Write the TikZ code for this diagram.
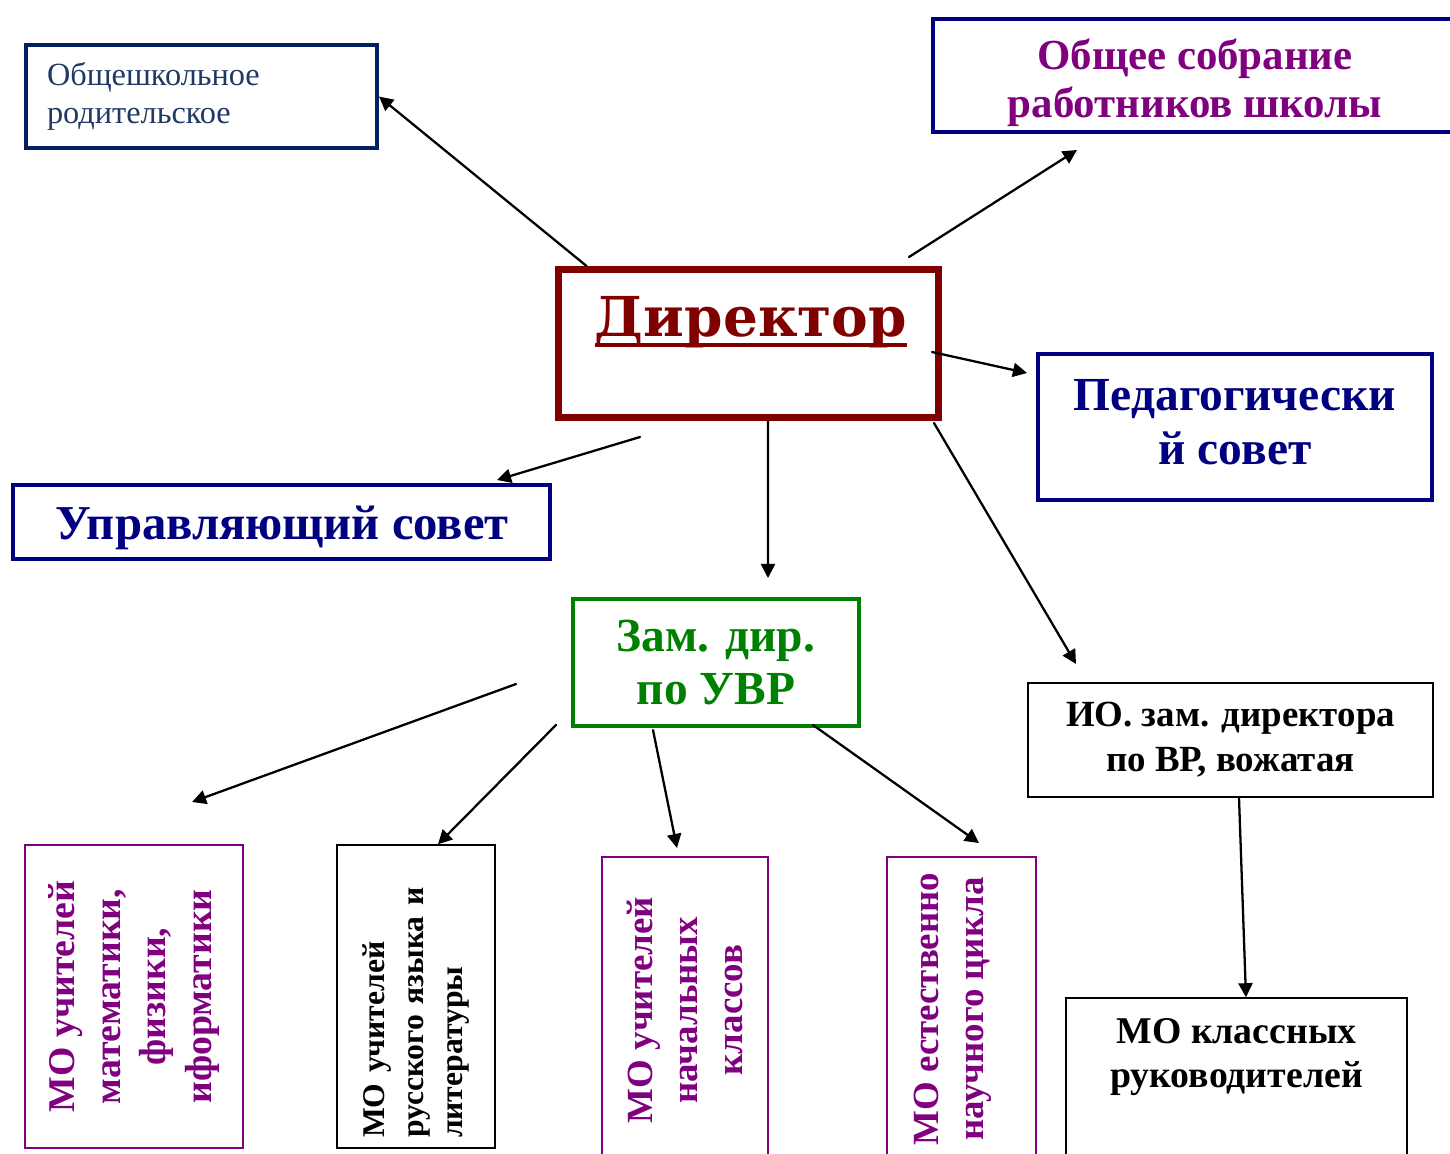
\documentclass[tikz,border=0pt]{standalone}
\usepackage{fontspec}
\setmainfont{Liberation Serif}
\newfontfamily\slabfont{DejaVu Serif}
\usetikzlibrary{arrows.meta,calc}

\definecolor{navyb}{RGB}{0,0,128}
\definecolor{navyd}{RGB}{0,32,96}
\definecolor{inkb}{RGB}{31,56,100}
\definecolor{plum}{RGB}{128,0,128}
\definecolor{maroonr}{RGB}{128,0,0}
\definecolor{leaf}{RGB}{0,128,0}

\newsavebox\ulbox
\newcommand\thickul[1]{\sbox\ulbox{#1}%
  \rlap{\rule[-0.2em]{\wd\ulbox}{0.075em}}\usebox\ulbox}

\begin{document}
\begin{tikzpicture}[x=0.02cm,y=-0.02cm,>={Triangle[length=8pt,width=8pt]},
    box@/.style={draw,rectangle,inner sep=0pt,align=center,line join=miter},
    lbl@/.style={align=center,inner sep=0pt},
    thick@/.style={line width=2.3pt},
    thin@/.style={line width=1.1pt},
    arr@/.style={line width=1.3pt,line cap=round,->}]
    \useasboundingbox (0,0) rectangle (1450,1153);
    \clip (0,0) rectangle (1450,1153);

    % Upper row of councils round the director.
    \node[box@,thick@,draw=navyd,text=inkb,minimum width=7.02cm,
      minimum height=2.06cm,text width=6.18cm,align=left,
      font=\fontsize{18.4}{21.5}\selectfont] (par) at (201.5,96.5)
      {Общешкольное\\родительское};
    \node[box@,thick@,draw=navyb,minimum width=10.52cm,
      minimum height=2.26cm] (obsh) at (1196,75.5) {};
    \node[lbl@,text=plum,font=\bfseries\fontsize{24.4}{27.2}\selectfont]
      (obshlbl) at (1195,83) {Общее собрание\\работников школы};
    \node[box@,line width=4pt,draw=maroonr,minimum width=7.6cm,
      minimum height=2.96cm] (dir) at (748.5,343.5) {};
    \node[text=maroonr,font=\slabfont\bfseries\fontsize{31.3}{36}\selectfont]
      (dirlbl) at (751,322) {\thickul{Директор}};
    \node[box@,thick@,draw=navyb,minimum width=7.88cm,
      minimum height=2.92cm] (ped) at (1235,427) {};
    \node[lbl@,text=navyb,font=\bfseries\fontsize{27}{31}\selectfont]
      (pedlbl) at (1235,422) {Педагогически\\й совет};
    \node[box@,thick@,draw=navyb,minimum width=10.74cm,
      minimum height=1.48cm] (upr) at (281.5,522) {};
    \node[lbl@,text=navyb,font=\bfseries\fontsize{27.7}{31}\selectfont]
      (uprlbl) at (282,528) {Управляющий совет};

    % Deputies.
    \node[box@,thick@,draw=leaf,text=leaf,minimum width=5.72cm,
      minimum height=2.54cm,font=\bfseries\fontsize{27}{30}\selectfont]
      (zam) at (716,662.5) {Зам. дир.\\по УВР};
    \node[box@,line width=0.9pt,minimum width=8.1cm,minimum height=2.28cm,
      font=\bfseries\fontsize{21}{25.5}\selectfont]
      (io) at (1230.5,740) {ИО. зам. директора\\по ВР, вожатая};
    \node[box@,line width=0.9pt,minimum width=6.82cm,minimum height=4.04cm]
      (mok) at (1236.5,1099) {};
    \node[lbl@,font=\bfseries\fontsize{21.5}{25.5}\selectfont]
      (moklbl) at (1236.5,1057) {МО классных\\руководителей};

    % The subject groups, written upwards.
    \node[box@,thin@,draw=plum,text=plum,rotate=90,minimum width=6.06cm,
      minimum height=4.36cm,font=\bfseries\fontsize{21.5}{26}\selectfont]
      (mom) at (134,996.5) {МО учителей\\математики,\\физики,\\иформатики};
    \node[box@,line width=0.9pt,rotate=90,minimum width=6.06cm,
      minimum height=3.16cm,text width=5.66cm,align=left,
      font=\bfseries\fontsize{18}{22}\selectfont]
      (mor) at (416,996.5) {МО учителей\\русского языка и\\литературы};
    \node[box@,thin@,draw=plum,text=plum,rotate=90,minimum width=6.12cm,
      minimum height=3.32cm,font=\bfseries\fontsize{21}{25.5}\selectfont]
      (mon) at (685,1010) {МО учителей\\начальных\\классов};
    \node[box@,thin@,draw=plum,minimum width=2.98cm,
      minimum height=6.12cm] (moe) at (961.5,1010) {};
    \node[lbl@,text=plum,rotate=90,font=\bfseries\fontsize{21}{25.5}\selectfont]
      (moelbl) at (953,1009) {МО естественно\\научного цикла};

    % Free ends of the arrows.
    \coordinate (obshtip) at (1077,150);
    \coordinate (dirne) at (909,257);
    \coordinate (dire) at (932,352);
    \coordinate (pedtip) at (1027,373);
    \coordinate (dirsw) at (640,437);
    \coordinate (uprtip) at (497,480);
    \coordinate (zamtip) at (768,578);
    \coordinate (dirse) at (934,423);
    \coordinate (iotip) at (1076,664);
    \coordinate (zamw) at (516,684);
    \coordinate (momtip) at (192,802);
    \coordinate (zamsw) at (556,725);
    \coordinate (zams) at (653,730);
    \coordinate (montip) at (677,848);
    \coordinate (zamse) at (813,725);
    \coordinate (moetip) at (979,843);

    \draw[arr@] ([xshift=0.63cm]dir.north west) -- (par.east);
    \draw[arr@] (dirne) -- (obshtip);
    \draw[arr@] (dire) -- (pedtip);
    \draw[arr@] (dirsw) -- (uprtip);
    \draw[arr@] ([xshift=0.39cm]dir.south) -- (zamtip);
    \draw[arr@] (dirse) -- (iotip);
    \draw[arr@] (zamw) -- (momtip);
    \draw[arr@] (zamsw) -- ([xshift=0.44cm]mor.east);
    \draw[arr@] (zams) -- (montip);
    \draw[arr@] (zamse) -- (moetip);
    \draw[arr@] ([xshift=0.17cm]io.south) -- ([xshift=0.19cm]mok.north);
  \end{tikzpicture}
\end{document}
